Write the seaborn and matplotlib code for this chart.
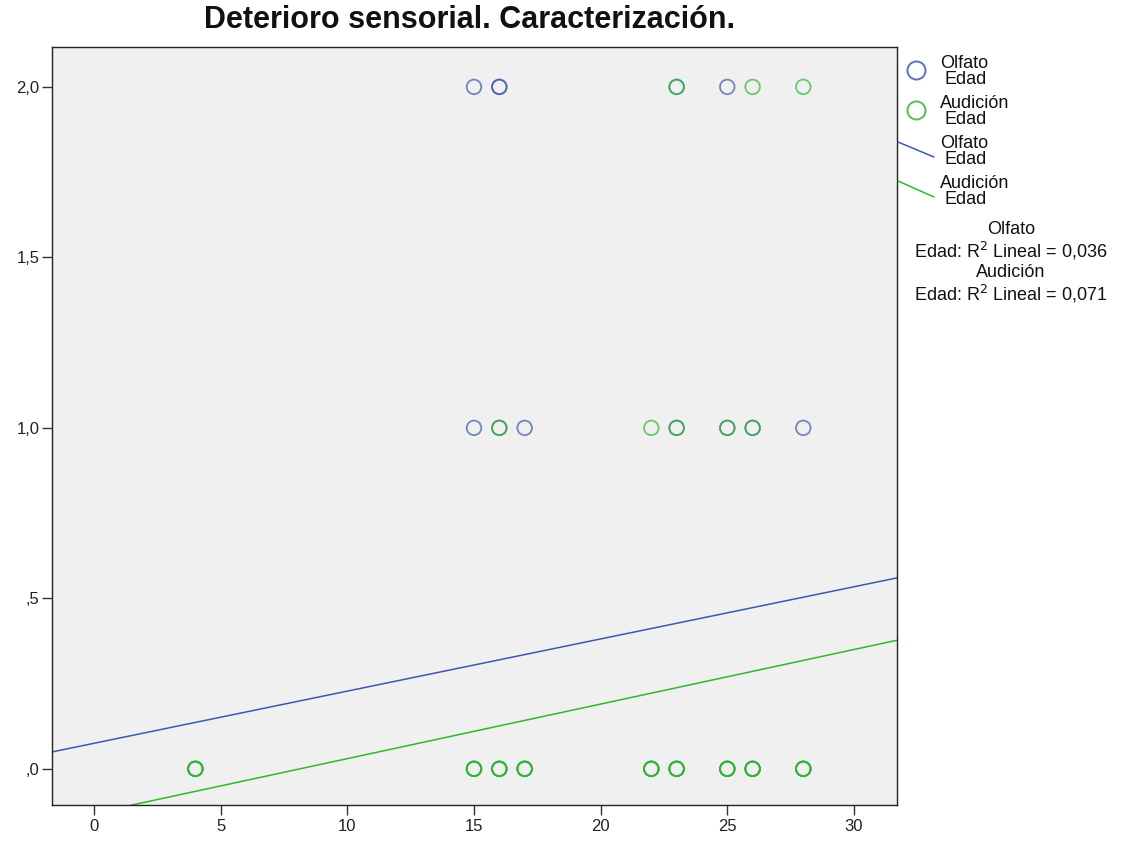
import matplotlib
matplotlib.use("Agg")
import matplotlib.pyplot as plt
from matplotlib.lines import Line2D
import seaborn as sns
import pandas as pd
import numpy as np

# ---- data ----
olfato_edad = [4, 15, 16, 17, 22, 23, 25, 26, 28,
               15, 16, 17, 23, 25, 26, 28,
               15, 16, 16, 23, 25]
olfato_val = [0, 0, 0, 0, 0, 0, 0, 0, 0,
              1, 1, 1, 1, 1, 1, 1,
              2, 2, 2, 2, 2]
audicion_edad = [4, 15, 16, 17, 22, 23, 25, 26, 28,
                 4, 15, 16, 17, 22, 23, 25, 26, 28,
                 4, 15, 16, 17, 22, 23, 25, 26, 28,
                 16, 22, 23, 25, 26,
                 23, 26, 28]
audicion_val = [0, 0, 0, 0, 0, 0, 0, 0, 0,
                0, 0, 0, 0, 0, 0, 0, 0, 0,
                0, 0, 0, 0, 0, 0, 0, 0, 0,
                1, 1, 1, 1, 1,
                2, 2, 2]
# linear fit coefficients (intercept, slope)
fit_olfato = [0.075, 0.0153]
fit_audicion = [-0.13, 0.0160]
r2_olfato = "0,036"
r2_audicion = "0,071"
yticks = [0.0, 0.5, 1.0, 1.5, 2.0]
ytick_labels = [",0", ",5", "1,0", "1,5", "2,0"]
xticks = [0, 5, 10, 15, 20, 25, 30]
series_names = ["Olfato", "Audición"]
x_name = "Edad"

BLUE = "#3e58ac"
GREEN = "#2eb82e"

df = pd.concat([
    pd.DataFrame({"Edad": olfato_edad, "Valor": olfato_val, "Serie": "Olfato"}),
    pd.DataFrame({"Edad": audicion_edad, "Valor": audicion_val, "Serie": "Audición"}),
])

sns.set_style("white")
plt.rcParams["font.family"] = ["Liberation Sans", "DejaVu Sans"]

W, H = 1127, 843
fig = plt.figure(figsize=(W / 100, H / 100), dpi=100)
ax = fig.add_axes([52 / W, 1 - 805 / H, (897 - 52) / W, (805 - 47) / H])
ax.set_facecolor("#f0f0f0")

xmin, xmax = -1.66, 31.7
for serie, col in [("Olfato", BLUE), ("Audición", GREEN)]:
    sub = df[df["Serie"] == serie]
    sns.scatterplot(data=sub, x="Edad", y="Valor", ax=ax, s=110,
                    marker="o", facecolors="none", edgecolor=col,
                    linewidth=1.3, alpha=0.7, legend=False)

xs = np.array([xmin, xmax])
for (b0, b1), col in [(fit_olfato, BLUE), (fit_audicion, GREEN)]:
    sns.lineplot(x=xs, y=b0 + b1 * xs, ax=ax, color=col, linewidth=1.1)

ax.set_xlim(xmin, xmax)
ax.set_ylim(-0.106, 2.117)
ax.set_xticks(xticks)
ax.set_xticklabels([str(t) for t in xticks], fontsize=12)
ax.set_yticks(yticks)
ax.set_yticklabels(ytick_labels, fontsize=12)
ax.set_xlabel("")
ax.set_ylabel("")
ax.tick_params(axis="both", direction="out", length=7, width=1, color="#333333",
               labelcolor="#222222")
ax.tick_params(axis="x", bottom=True, pad=3)
ax.tick_params(axis="y", left=True, pad=2)
for s in ax.spines.values():
    s.set_color("#222222")
    s.set_linewidth(1)

fig.text(470 / W, 1 - 20 / H, "Deterioro sensorial. Caracterización.", ha="center",
         va="center", fontsize=22, fontweight="bold", color="#111111")

# ---- legend (manual, figure pixel coords) ----
def fx(px):
    return px / W

def fy(py):
    return 1 - py / H

LEG_FS = 13
marker_items = [(BLUE, 70), (GREEN, 110)]
for col, py in marker_items:
    fig.add_artist(Line2D([fx(916)], [fy(py)], marker="o", linestyle="none",
                          markerfacecolor="none", markeredgecolor=col,
                          markersize=13, markeredgewidth=1.4, alpha=0.85))
line_items = [(BLUE, 142, 157), (GREEN, 181, 197)]
for col, y0, y1 in line_items:
    fig.add_artist(Line2D([fx(898), fx(934)], [fy(y0), fy(y1)], color=col,
                          linewidth=1.1))
text_tops = [63, 103, 143, 183]
names = series_names + series_names
for name, py in zip(names, text_tops):
    fig.text(fx(940), fy(py), name, ha="left", va="center", fontsize=LEG_FS,
             color="#111111")
    fig.text(fx(944), fy(py + 16), x_name, ha="left", va="center", fontsize=LEG_FS,
             color="#111111")

r2_lines = [series_names[0], x_name + ": R$^2$ Lineal = " + r2_olfato,
            series_names[1], x_name + ": R$^2$ Lineal = " + r2_audicion]
for txt, py in zip(r2_lines, [229, 251, 272, 294]):
    fig.text(fx(1011), fy(py), txt, ha="center", va="center", fontsize=LEG_FS,
             color="#111111")

fig.savefig("out.png", dpi=100)
